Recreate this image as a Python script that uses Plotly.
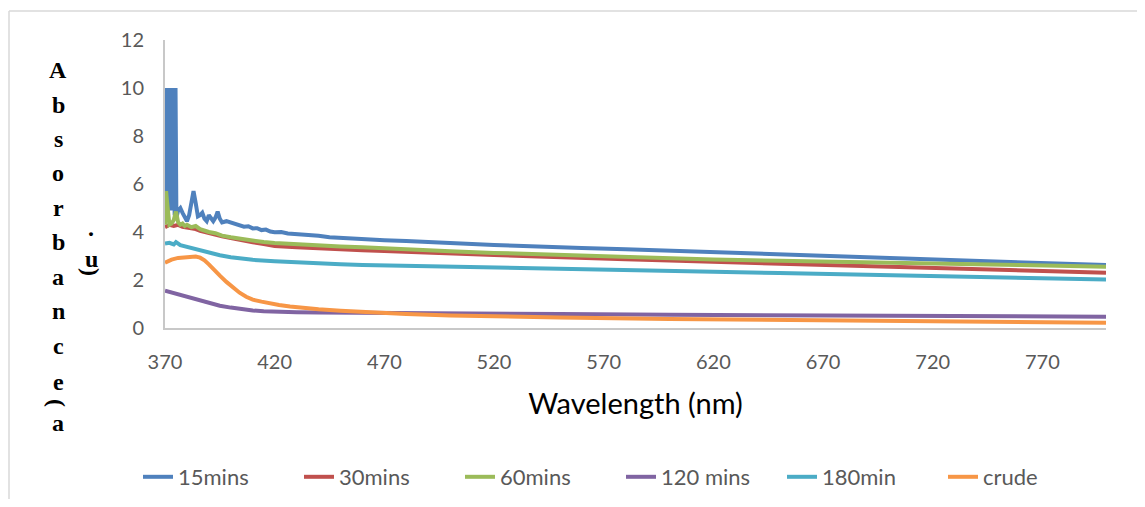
import plotly.graph_objects as go

# ---------------- data ----------------
wl_15 = [370.0, 370.4, 370.8, 371.2, 371.6, 372.0, 372.4, 372.8, 373.2, 373.6, 374.0, 374.4, 374.8, 375.2,
         376, 377, 378, 379, 380, 381, 382, 383, 384, 385, 386, 387, 388, 389, 390, 391, 392, 393, 394, 395,
         396, 398, 400, 402, 404, 406, 408, 410, 412, 414, 416, 418, 420, 423, 426, 430, 433, 436, 440, 445,
         450, 455, 460, 470, 480, 490, 500, 510, 520, 530, 540, 560, 580, 600, 620, 640, 660, 680, 700, 720,
         740, 760, 780, 799]
abs_15 = [10.0, 5.0, 9.9, 4.8, 10.0, 5.2, 9.9, 4.9, 10.0, 5.0, 9.9, 4.7, 10.0, 4.6,
          4.9, 5.0, 4.8, 4.6, 4.45, 4.7, 5.3, 5.7, 5.2, 4.65, 4.7, 4.8, 4.55, 4.45, 4.7, 4.55, 4.45, 4.6, 4.85, 4.55,
          4.4, 4.45, 4.4, 4.32, 4.3, 4.22, 4.24, 4.15, 4.16, 4.08, 4.1, 4.02, 3.99, 4.0, 3.94, 3.92, 3.9, 3.85, 3.84,
          3.78, 3.75, 3.73, 3.71, 3.66, 3.62, 3.57, 3.53, 3.5, 3.46, 3.43, 3.39, 3.33, 3.28, 3.22, 3.15, 3.09,
          3.03, 2.97, 2.91, 2.85, 2.79, 2.73, 2.68, 2.62]

wl_30 = [370, 372, 374, 376, 378, 380, 382, 384, 386, 388, 390, 393, 396, 400, 405, 410, 415, 420, 430, 440,
         450, 460, 470, 480, 500, 520, 540, 560, 580, 600, 620, 650, 680, 700, 730, 760, 799]
abs_30 = [4.2, 4.3, 4.25, 4.3, 4.22, 4.2, 4.15, 4.12, 4.05, 4.0, 3.95, 3.9, 3.82, 3.75, 3.65, 3.57, 3.5, 3.42, 3.36, 3.31,
          3.27, 3.24, 3.21, 3.17, 3.1, 3.04, 2.98, 2.9, 2.86, 2.81, 2.76, 2.69, 2.62, 2.57, 2.5, 2.42, 2.3]

wl_60 = [370, 370.5, 371, 371.5, 372, 373, 374, 375, 376, 377, 378, 379, 380, 382, 384, 386, 388, 390, 393, 396,
         400, 405, 410, 415, 420, 430, 440, 450, 460, 470, 480, 500, 520, 540, 560, 580, 600, 620, 650, 680, 700,
         730, 760, 799]
abs_60 = [4.3, 5.7, 5.2, 4.4, 4.3, 4.35, 4.5, 4.85, 4.4, 4.3, 4.35, 4.25, 4.3, 4.2, 4.25, 4.12, 4.05, 4.0, 3.95, 3.85,
          3.78, 3.7, 3.63, 3.58, 3.54, 3.48, 3.43, 3.4, 3.36, 3.33, 3.28, 3.2, 3.13, 3.07, 3.0, 2.95, 2.9, 2.85, 2.8,
          2.74, 2.7, 2.66, 2.62, 2.55]

wl_120 = [370, 375, 380, 385, 390, 395, 400, 405, 410, 415, 420, 430, 440, 460, 480, 500, 550, 600, 650, 700, 750, 799]
abs_120 = [1.55, 1.42, 1.28, 1.15, 1.03, 0.93, 0.85, 0.78, 0.73, 0.7, 0.68, 0.66, 0.65, 0.63, 0.62, 0.61, 0.58,
           0.55, 0.53, 0.51, 0.49, 0.47]

wl_180 = [370, 372, 374, 375, 377, 380, 383, 386, 390, 395, 400, 405, 410, 420, 430, 440, 450, 460, 470, 480, 500,
          520, 540, 560, 580, 600, 620, 650, 680, 700, 730, 760, 799]
abs_180 = [3.52, 3.55, 3.48, 3.58, 3.45, 3.38, 3.3, 3.22, 3.12, 3.03, 2.95, 2.89, 2.84, 2.78, 2.73, 2.69, 2.66, 2.63,
           2.61, 2.58, 2.54, 2.5, 2.47, 2.43, 2.4, 2.37, 2.34, 2.29, 2.24, 2.21, 2.16, 2.1, 2.02]

wl_crude = [370, 373, 376, 379, 382, 384, 386, 388, 390, 392, 395, 398, 401, 404, 407, 410, 414, 418, 422, 427, 432,
            440, 450, 460, 470, 480, 500, 520, 550, 600, 650, 700, 750, 799]
abs_crude = [2.72, 2.85, 2.92, 2.95, 2.97, 2.98, 2.93, 2.82, 2.65, 2.45, 2.18, 1.92, 1.68, 1.47, 1.3, 1.18, 1.1, 1.02,
             0.96, 0.9, 0.84, 0.78, 0.72, 0.67, 0.62, 0.58, 0.52, 0.48, 0.44, 0.38, 0.33, 0.29, 0.25, 0.22]

series_names = ["15mins", "30mins", "60mins", "120 mins", "180min", "crude"]
series_x = [wl_15, wl_30, wl_60, wl_120, wl_180, wl_crude]
series_y = [abs_15, abs_30, abs_60, abs_120, abs_180, abs_crude]
colors = ["#4F81BD", "#C0504D", "#9BBB59", "#8064A2", "#4BACC6", "#F79646"]

x_ticks = [370, 420, 470, 520, 570, 620, 670, 720, 770]
y_ticks = [0, 2, 4, 6, 8, 10, 12]

# ---------------- figure ----------------
OFF = 8                       # page body margin
W, H = 1145 - 2 * OFF, 507 - 2 * OFF
L, R, T, B = 165, 1106, 40, 328   # plot area in page pixels


def px(xp):
    return (xp - L) / (R - L)


def py(yp):
    return (B - yp) / (B - T)


fig = go.Figure()
for name, xs, ys, c in zip(series_names, series_x, series_y, colors):
    fig.add_trace(go.Scatter(x=xs, y=ys, name=name, mode="lines",
                             line=dict(color=c, width=4)))

tickfont = dict(family="Lato, Carlito, Arial", size=20, color="#595959")
fig.update_layout(
    width=W, height=H,
    margin=dict(l=L - OFF, r=W - (R - OFF), t=T - OFF, b=H - (B - OFF), pad=0, autoexpand=False),
    paper_bgcolor="white", plot_bgcolor="white",
    xaxis=dict(range=[370, 799], tickvals=x_ticks, ticks="", showgrid=False, zeroline=False,
               showline=True, linecolor="#C8C8C8", linewidth=2, tickfont=tickfont,
               ticklabelstandoff=15,
               title=dict(text="Wavelength (nm)", standoff=22,
                          font=dict(family="Lato, Carlito, Arial", size=29, color="#000000"))),
    yaxis=dict(range=[0, 12], tickvals=y_ticks, ticks="", showgrid=False, zeroline=False,
               showline=True, linecolor="#C8C8C8", linewidth=2, tickfont=tickfont,
               ticklabelstandoff=15),
    legend=dict(orientation="h", x=px(138), y=py(477), xanchor="left", yanchor="middle",
                entrywidth=116, entrywidthmode="pixels",
                font=dict(family="Lato, Carlito, Arial", size=22, color="#595959"),
                bgcolor="rgba(0,0,0,0)"),
    showlegend=True,
)

# chart border (left and top edges visible in reference)
fig.add_shape(type="line", xref="paper", yref="paper", x0=px(9), x1=px(9), y0=py(11), y1=py(499),
              line=dict(color="#D9D9D9", width=1.5))
fig.add_shape(type="line", xref="paper", yref="paper", x0=px(9), x1=px(1137), y0=py(11), y1=py(11),
              line=dict(color="#D9D9D9", width=1.5))

# stacked vertical y-axis title "Absorbance (a.u)"
serif = dict(family="Liberation Serif, Times New Roman, serif", size=24, color="#000000")
col1 = [("A", 70), ("b", 105), ("s", 139), ("o", 173), ("r", 208), ("b", 242), ("a", 277),
        ("n", 311), ("c", 346), ("e", 382), ("a", 423)]
for ch, yy in col1:
    fig.add_annotation(text="<b>%s</b>" % ch, xref="paper", yref="paper", x=px(58), y=py(yy),
                       showarrow=False, xanchor="center", yanchor="middle", font=serif)
fig.add_annotation(text="<b>(</b>", xref="paper", yref="paper", x=px(57), y=py(403), textangle=90,
                   showarrow=False, xanchor="center", yanchor="middle", font=serif)
col2 = [(".", 228), ("u", 259)]
for ch, yy in col2:
    fig.add_annotation(text="<b>%s</b>" % ch, xref="paper", yref="paper", x=px(91), y=py(yy),
                       showarrow=False, xanchor="center", yanchor="middle", font=serif)
fig.add_annotation(text="<b>)</b>", xref="paper", yref="paper", x=px(91), y=py(272), textangle=90,
                   showarrow=False, xanchor="center", yanchor="middle", font=serif)

fig.write_html("out.html")
